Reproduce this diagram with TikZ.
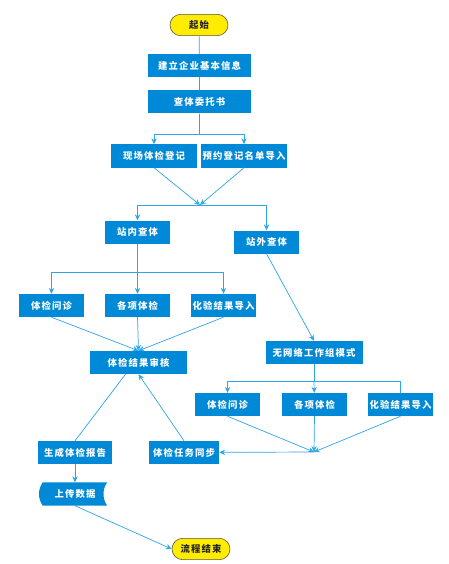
\documentclass[tikz,border=0pt]{standalone}
\usepackage{fontspec}
\newfontfamily\cjkfont[LetterSpace=12]{Noto Sans CJK SC}
\usetikzlibrary{arrows.meta,calc,backgrounds}

\definecolor{boxblue}{RGB}{0,137,214}
\definecolor{lineblue}{RGB}{45,165,232}
\definecolor{termyellow}{RGB}{255,236,0}
\definecolor{termedge}{RGB}{90,85,60}

\tikzset{
  box/.style={rectangle,fill=boxblue,text=white,inner sep=0pt,minimum height=0.69cm,
    font=\cjkfont\bfseries\fontsize{8}{10}\selectfont},
  term/.style={rectangle,rounded corners=0.32cm,fill=termyellow,draw=termedge,line width=0.5pt,
    text=black!85,inner sep=0pt,minimum width=1.74cm,minimum height=0.64cm,
    font=\cjkfont\bfseries\fontsize{8}{10}\selectfont},
  link/.style={draw=lineblue,line width=0.6pt},
}

\begin{document}
\begin{tikzpicture}[x=0.03cm,y=-0.03cm,>={Stealth[length=5pt,width=4.5pt]}]
  \useasboundingbox (0,0) rectangle (448,564);

  % main column
  \node[term] (start) at (199,25) {起始};
  \node[box,minimum width=3.09cm] (info) at (199.5,65.5) {建立企业基本信息};
  \node[box,minimum width=3.09cm] (entrust) at (199.5,102) {查体委托书};
  \node[box,minimum width=2.58cm] (onsite) at (154,156) {现场体检登记};
  \node[box,minimum width=2.58cm] (booking) at (244,156) {预约登记名单导入};
  \node[box,minimum width=1.95cm] (inside) at (137.5,232) {站内查体};
  \node[box,minimum width=1.95cm] (outside) at (266.5,242) {站外查体};

  % inside branch
  \node[box,minimum width=1.95cm] (inquiry) at (51.5,305.5) {体检问诊};
  \node[box,minimum width=1.95cm] (items) at (137.5,305.5) {各项体检};
  \node[box,minimum width=1.95cm] (labs) at (223.5,305.5) {化验结果导入};
  \node[box,minimum width=2.91cm] (review) at (138.5,362.5) {体检结果审核};

  % outside branch
  \node[box,minimum width=2.91cm] (offline) at (314,352.5) {无网络工作组模式};
  \node[box,minimum width=1.95cm] (offinquiry) at (227.5,404.5) {体检问诊};
  \node[box,minimum width=1.95cm] (offitems) at (314.5,404.5) {各项体检};
  \node[box,minimum width=1.95cm] (offlabs) at (400.5,404.5) {化验结果导入};

  % end part
  \node[box,minimum width=2.22cm] (report) at (75,452.5) {生成体检报告};
  \node[box,minimum width=2.1cm] (sync) at (184,452.5) {体检任务同步};
  \node[box,minimum width=1.92cm,fill=none] (upload) at (75,494) {上传数据};
  \node[term] (finish) at (201,549) {流程结束};

  \begin{scope}[on background layer]
    \fill[boxblue] (upload.north west) .. controls +(-5,7) and +(-5,-7) .. (upload.south west)
      -- (upload.south east) .. controls +(-5,-7) and +(-5,7) .. (upload.north east) -- cycle;
  \end{scope}

  \coordinate (split1) at (199.5,134);
  \coordinate (merge1) at (200,205);
  \coordinate (split2) at (137.5,272);
  \coordinate (split3) at (314,381);
  \coordinate (merge3) at (314,452);

  \draw[link] (start) -- (info) (info) -- (entrust) (entrust) -- (split1);
  \draw[link,->] (split1) -| (onsite);
  \draw[link,->] (split1) -| (booking);
  \draw[link,->] (onsite.south) -- (merge1);
  \draw[link,->] (booking.south) -- (merge1);
  \draw[link,->] (merge1) -| (inside);
  \draw[link,->] (merge1) -| (outside);

  \draw[link,->] (inside) -- (items);
  \draw[link,->] (split2) -| (inquiry);
  \draw[link,->] (split2) -| (labs);
  \draw[link,->] (inquiry.south) -- (review.north);
  \draw[link,->] (items.south) -- (review.north);
  \draw[link,->] (labs.south) -- (review.north);

  \draw[link,->] (outside.south) -- (offline.north);
  \draw[link] (offline) -- (split3);
  \draw[link,->] (split3) -| (offinquiry);
  \draw[link,->] (split3) -- (offitems);
  \draw[link] (split3) -| (offlabs);
  \draw[link,->] (offinquiry.south) -- (merge3);
  \draw[link,->] (offitems.south) -- (merge3);
  \draw[link,->] (offlabs.south) -- (merge3);
  \draw[link,->] (merge3) -- (sync);

  \draw[link] ($(review.south)+(-13,0)$) -- (report.north);
  \draw[link,->] (sync.north) -- (review.south);
  \draw[link,->] (report) -- (upload);
  \draw[link,->] (upload.south) -- (finish.west);
\end{tikzpicture}
\end{document}
